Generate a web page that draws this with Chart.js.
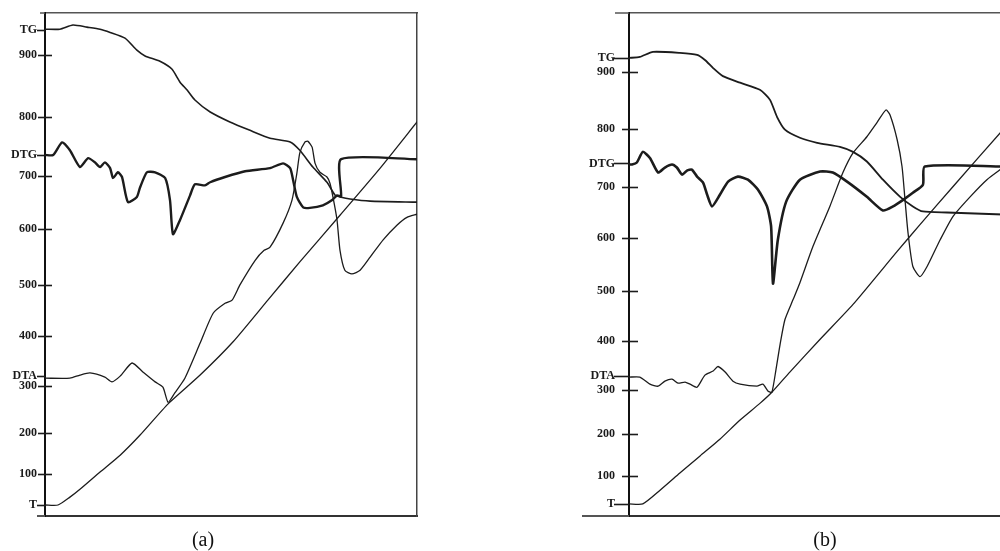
<!DOCTYPE html>
<html>
<head>
<meta charset="utf-8">
<script src="https://cdn.jsdelivr.net/npm/chart.js@4.4.0/dist/chart.umd.min.js"></script>
<style>
  html, body { margin: 0; padding: 0; background: #fff; width: 1000px; height: 551px; overflow: hidden; }
  #wrapA { position: absolute; left: 0; top: 0; width: 430px; height: 551px; }
  #wrapB { position: absolute; left: 540px; top: 0; width: 470px; height: 551px; }
  .cap { position: absolute; top: 527px; height: 24px; line-height: 24px; font-family: "Liberation Serif", serif; font-size: 20px; color: #111; width: 60px; text-align: center; }
</style>
</head>
<body>
<div id="wrapA"><canvas id="chartA" width="430" height="551"></canvas></div>
<div id="wrapB"><canvas id="chartB" width="470" height="551"></canvas></div>
<div class="cap" style="left:173px">(a)</div>
<div class="cap" style="left:795px">(b)</div>
<script>
// ---- Axis tick labels (shared) and their positions on each panel's scale ----
const tickLabels = ['T', '100', '200', '300', 'DTA', '400', '500', '600', '700', 'DTG', '800', '900', 'TG'];
const tickValuesA = [41, 100, 178, 268, 287, 363, 461, 568, 669, 709, 781, 900, 947];
const tickValuesB = [45, 100, 183, 270, 298, 367, 466, 572, 673, 719, 788, 900, 928];

// ---- Panel (a) ----
const tgXA = [0, 4.0, 7.5, 11.3, 14.8, 17.5, 21.5, 24.7, 26.9, 30.9, 34.1, 36.3, 38.2, 40.3, 44.4, 49.7, 55.1, 60.5, 65.9, 68.5, 72.0, 75.8, 78.0, 79.3, 82.0, 87.4, 100];
const tgYA = [949, 949, 957, 953, 949, 943, 932, 909, 898, 888, 873, 848, 833, 814, 791, 772, 756, 741, 734, 718, 686, 657, 632, 629, 625, 621, 619];

const dtgXA = [0, 2.2, 4.6, 6.7, 9.4, 11.6, 13.4, 14.8, 16.1, 17.5, 18.3, 19.6, 20.7, 22.3, 24.7, 25.5, 27.4, 29.6, 32.3, 33.6, 34.4, 36.3, 39.0, 40.3, 43.0, 44.4, 48.4, 53.8, 60.5, 64.0, 65.9, 66.7, 67.7, 69.4, 71.2, 74.7, 77.2, 78.5, 79.6, 79.6, 100];
const dtgYA = [709, 709, 733, 718, 686, 703, 695, 686, 695, 684, 665, 676, 667, 619, 629, 646, 676, 676, 665, 623, 558, 585, 632, 653, 651, 657, 667, 678, 684, 693, 684, 661, 629, 609, 608, 613, 623, 632, 630, 701, 701];

const dtaXA = [0, 6.7, 9.4, 12.1, 16.1, 18.0, 20.2, 23.4, 26.3, 29.6, 31.7, 33.1, 34.9, 37.6, 41.7, 45.2, 48.4, 50.3, 52.4, 56.5, 58.9, 60.5, 64.0, 66.4, 67.7, 68.5, 69.9, 70.7, 71.8, 72.6, 73.9, 75.8, 76.6, 77.4, 78.5, 79.3, 80.6, 82.5, 84.7, 87.4, 90.9, 94.6, 97.3, 100];
const dtaYA = [283, 283, 289, 293, 285, 276, 287, 312, 295, 276, 266, 237, 255, 283, 350, 407, 426, 432, 461, 508, 527, 533, 579, 623, 674, 713, 734, 735, 724, 693, 676, 667, 655, 629, 585, 527, 489, 482, 489, 514, 547, 575, 590, 596];

const tXA = [0, 3.5, 6.7, 9.4, 14.8, 20.2, 25.5, 33.1, 41.7, 50.5, 59.9, 68.5, 79.3, 90.1, 100];
const tYA = [41, 41, 56, 71, 104, 136, 174, 234, 289, 352, 432, 505, 594, 684, 772];

// ---- Panel (b) ----
const tgXB = [0, 2.9, 6.4, 13.6, 18.2, 20.3, 22.5, 25.1, 29.7, 35.0, 37.7, 39.6, 41.7, 45.7, 50.3, 56.4, 59.9, 63.6, 67.9, 72.5, 75.9, 78.6, 85.0, 100];
const tgYB = [928, 930, 940, 938, 934, 924, 908, 892, 879, 865, 845, 811, 786, 770, 760, 752, 742, 723, 687, 653, 634, 624, 622, 618];

const dtgXB = [0, 0.8, 2.1, 3.7, 5.6, 7.8, 9.6, 11.5, 12.8, 14.2, 15.5, 16.8, 18.2, 19.8, 20.9, 22.2, 24.3, 26.5, 29.1, 31.8, 34.5, 36.9, 38.0, 38.5, 39.8, 42.0, 45.7, 51.1, 54.5, 58.3, 63.6, 67.9, 70.6, 73.3, 75.9, 78.6, 79.1, 100];
const dtgYB = [717, 717, 721, 742, 730, 701, 711, 717, 711, 697, 705, 707, 693, 681, 657, 634, 657, 683, 693, 687, 667, 634, 594, 481, 568, 643, 687, 703, 701, 683, 653, 626, 634, 647, 661, 677, 713, 713];

const dtaXB = [0, 2.9, 5.6, 7.8, 9.6, 11.5, 13.1, 15.0, 16.3, 18.2, 20.3, 22.5, 23.8, 25.7, 27.8, 29.7, 34.2, 35.8, 37.2, 38.2, 39.3, 40.4, 41.7, 43.9, 45.7, 49.2, 53.7, 57.2, 59.9, 63.6, 66.3, 68.7, 69.8, 71.7, 73.0, 73.8, 74.6, 75.9, 77.8, 79.7, 83.2, 86.6, 91.2, 95.7, 100];
const dtaYB = [296, 296, 282, 278, 288, 292, 284, 286, 282, 276, 300, 308, 317, 306, 288, 282, 278, 282, 268, 266, 311, 361, 410, 450, 483, 555, 634, 701, 740, 772, 800, 825, 815, 766, 713, 647, 582, 515, 495, 515, 568, 614, 653, 687, 711];

const tXB = [0, 3.7, 8.3, 13.6, 19.0, 24.3, 29.7, 35.0, 38.2, 43.0, 51.1, 59.9, 71.7, 77.8, 86.6, 100];
const tYB = [45, 45, 72, 106, 140, 173, 211, 244, 266, 306, 371, 440, 545, 598, 673, 786];

// ---- helpers ----
const pts = (xs, ys) => xs.map((x, i) => ({ x: x, y: ys[i] }));
const INK = '#1c1c1c';

function ds(label, xs, ys, width) {
  return {
    label: label,
    data: pts(xs, ys),
    borderColor: INK,
    borderWidth: width,
    pointRadius: 0,
    fill: false,
    tension: 0.2,
    borderJoinStyle: 'round',
    borderCapStyle: 'round'
  };
}

// tick marks crossing the axis, leaders for named labels, frame extensions
const axisMarks = {
  id: 'axisMarks',
  afterDraw(chart, args, opts) {
    const ctx = chart.ctx;
    const ys = chart.scales.y;
    const a = chart.chartArea;
    ctx.save();
    ctx.strokeStyle = INK;
    ctx.lineWidth = 1.6;
    ys.ticks.forEach((t, i) => {
      const py = Math.round(ys.getPixelForValue(t.value)) + 0.5;
      const lbl = tickLabels[i];
      const named = isNaN(Number(lbl));
      ctx.beginPath();
      if (named) {
        ctx.moveTo(a.left - opts.nameLen, py);
        ctx.lineTo(a.left, py);
      } else {
        ctx.moveTo(a.left - opts.left, py);
        ctx.lineTo(a.left + opts.right, py);
      }
      ctx.stroke();
    });
    // short extensions of top and bottom frame lines to the left of the axis
    ctx.strokeStyle = '#555';
    ctx.lineWidth = 1.5;
    ctx.beginPath();
    ctx.moveTo(a.left - opts.topExt, a.top);
    ctx.lineTo(a.left, a.top);
    ctx.stroke();
    ctx.lineWidth = 2;
    ctx.beginPath();
    ctx.moveTo(a.left - opts.botExt, a.bottom);
    ctx.lineTo(a.left, a.bottom);
    ctx.stroke();
    ctx.restore();
  }
};

function makeChart(id, datasets, tickValues, yMin, yMax, axisWidth, labelPad, marks, withRight, padRight) {
  const hidden = { display: false };
  const scales = {
    x: {
      type: 'linear', min: 0, max: 100, position: 'bottom',
      ticks: hidden, grid: { display: false, drawTicks: false },
      border: { display: true, color: '#333', width: 2 },
      afterFit: (s) => { s.height = 0; s.paddingLeft = 0; s.paddingRight = 0; }
    },
    xTop: {
      type: 'linear', min: 0, max: 100, position: 'top',
      ticks: hidden, grid: { display: false, drawTicks: false },
      border: { display: true, color: '#555', width: 1.5 },
      afterFit: (s) => { s.height = 0; s.paddingLeft = 0; s.paddingRight = 0; }
    },
    y: {
      type: 'linear', min: yMin, max: yMax, position: 'left',
      afterBuildTicks: (s) => { s.ticks = tickValues.map(v => ({ value: v })); },
      ticks: {
        autoSkip: false,
        padding: labelPad,
        color: '#1a1a1a',
        font: { family: '"Liberation Serif", "DejaVu Serif", serif', size: 12, weight: 'bold' },
        callback: (v, i) => tickLabels[i]
      },
      grid: { display: false, drawTicks: false, tickLength: 0 },
      border: { display: true, color: '#111', width: 2 },
      afterFit: (s) => { s.width = axisWidth; s.paddingTop = 0; s.paddingBottom = 0; }
    }
  };
  if (withRight) {
    scales.yRight = {
      type: 'linear', min: yMin, max: yMax, position: 'right',
      ticks: hidden, grid: { display: false, drawTicks: false },
      border: { display: true, color: '#444', width: 1.5 },
      afterFit: (s) => { s.width = 0; s.paddingTop = 0; s.paddingBottom = 0; }
    };
  }
  return new Chart(document.getElementById(id), {
    type: 'line',
    data: { datasets: datasets },
    options: {
      responsive: false,
      animation: false,
      layout: { padding: { left: 0, top: 13, right: padRight, bottom: 35 } },
      plugins: { legend: { display: false }, tooltip: { enabled: false }, axisMarks: marks },
      scales: scales
    },
    plugins: [axisMarks]
  });
}

makeChart('chartA', [
  ds('TG', tgXA, tgYA, 1.6),
  ds('DTG', dtgXA, dtgYA, 2.4),
  ds('DTA', dtaXA, dtaYA, 1.3),
  ds('T', tXA, tYA, 1.3)
], tickValuesA, 20, 980, 45, 8, { left: 7, right: 7, nameLen: 8, topExt: 5, botExt: 8 }, true, 13);

makeChart('chartB', [
  ds('TG', tgXB, tgYB, 1.8),
  ds('DTG', dtgXB, dtgYB, 2.6),
  ds('DTA', dtaXB, dtaYB, 1.3),
  ds('T', tXB, tYB, 1.3)
], tickValuesB, 21, 1017, 89, 14, { left: 7, right: 9, nameLen: 15, topExt: 14, botExt: 47 }, false, 7);
</script>
</body>
</html>
